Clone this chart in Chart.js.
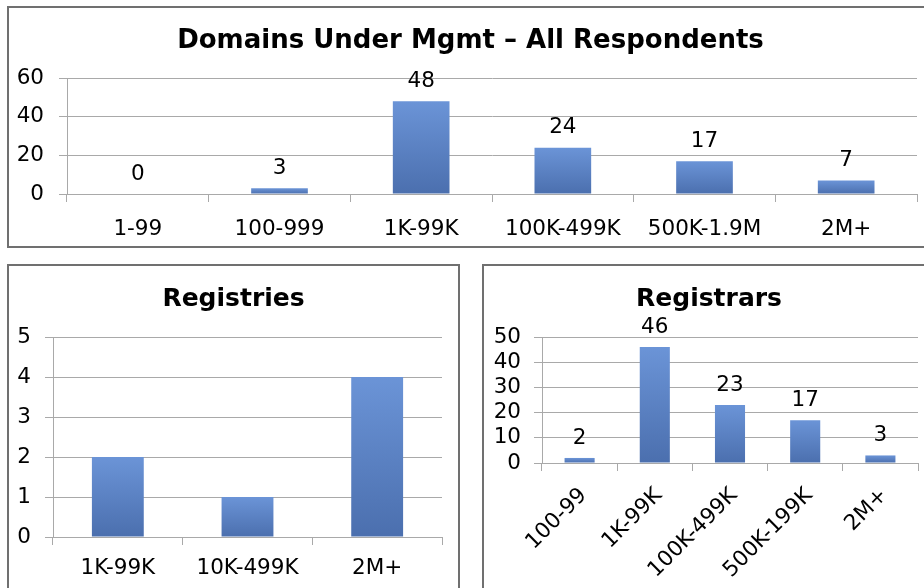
<!DOCTYPE html>
<html>
<head>
<meta charset="utf-8">
<script src="https://cdn.jsdelivr.net/npm/chart.js@4.4.0/dist/chart.umd.min.js"></script>
<style>
  html, body { margin: 0; padding: 0; background: #fff; overflow: hidden; width: 924px; height: 588px; }
  .box { position: absolute; box-sizing: border-box; border: 2px solid #707070; background: #fff; }
  canvas { position: absolute; }
</style>
</head>
<body>
<div class="box" style="left:7px;top:6px;width:940px;height:242px"></div>
<div class="box" style="left:7px;top:264px;width:453px;height:400px"></div>
<div class="box" style="left:482px;top:264px;width:500px;height:400px"></div>
<canvas id="all" width="914" height="238" style="left:10px;top:8px"></canvas>
<canvas id="registries" width="447" height="321" style="left:10px;top:267px"></canvas>
<canvas id="registrars" width="439" height="321" style="left:485px;top:267px"></canvas>
<script>
const allTitle = "Domains Under Mgmt \u2013 All Respondents";
const allLabels = ["1-99", "100-999", "1K-99K", "100K-499K", "500K-1.9M", "2M+"];
const allCounts = [0, 3, 48, 24, 17, 7];

const registryTitle = "Registries";
const registryLabels = ["1K-99K", "10K-499K", "2M+"];
const registryCounts = [2, 1, 4];

const registrarTitle = "Registrars";
const registrarLabels = ["100-99", "1K-99K", "100K-499K", "500K-199K", "2M+"];
const registrarCounts = [2, 46, 23, 17, 3];

const FONT = '"DejaVu Sans", Verdana, sans-serif';
const GRID = "#a9a9a9";
const TICK_SIZE = 21.5;

// excel-ish bar shading, light at the top, darker at the base
function barFill(c) {
  const chart = c.chart;
  if (!chart.chartArea || c.type !== "data") return "#5b80c4";
  const y = chart.scales.y;
  const top = y.getPixelForValue(c.raw);
  const base = y.getPixelForValue(0);
  if (base - top < 1) return "#5b80c4";
  const g = chart.ctx.createLinearGradient(0, top, 0, base);
  g.addColorStop(0, "#6b94d7");
  g.addColorStop(1, "#4b6fae");
  return g;
}

const valueLabels = {
  id: "valueLabels",
  afterDatasetsDraw(chart, args, opts) {
    if (!opts.display) return;
    const ctx = chart.ctx;
    const values = chart.data.datasets[0].data;
    ctx.save();
    ctx.font = TICK_SIZE + "px " + FONT;
    ctx.fillStyle = "#000";
    ctx.textAlign = "center";
    ctx.textBaseline = "middle";
    chart.getDatasetMeta(0).data.forEach((bar, i) => {
      ctx.fillText(String(values[i]), bar.x, bar.y - 20);
    });
    ctx.restore();
  }
};

// y tick labels sit in the left padding, don't let the scale clip them
const unclipY = {
  id: "unclipY",
  afterLayout(chart) { chart.scales.y.left = 0; }
};

function makeChart(id, o) {
  return new Chart(document.getElementById(id), {
    type: "bar",
    data: {
      labels: o.labels,
      datasets: [{
        data: o.values,
        backgroundColor: barFill,
        borderWidth: 0,
        barPercentage: 0.4,
        categoryPercentage: 1
      }]
    },
    options: {
      responsive: false,
      animation: false,
      devicePixelRatio: 1,
      layout: { padding: { left: o.padLeft, right: o.padRight, top: 0, bottom: 0 } },
      plugins: {
        legend: { display: false },
        tooltip: { enabled: false },
        title: {
          display: true,
          text: o.title,
          color: "#000",
          font: { family: FONT, size: o.titleSize, weight: "bold", lineHeight: 1.2 },
          padding: { top: o.titleTop, bottom: o.titleBottom }
        },
        valueLabels: { display: o.showValues }
      },
      scales: {
        x: {
          grid: { drawOnChartArea: false, drawTicks: true, tickLength: 8, color: GRID, offset: true },
          border: { color: GRID, width: 1 },
          ticks: {
            color: "#000",
            font: { family: FONT, size: TICK_SIZE, lineHeight: 1.2 },
            padding: o.xPad,
            labelOffset: o.xShift,
            autoSkip: false,
            minRotation: o.rotate,
            maxRotation: o.rotate
          },
          afterFit: (s) => { s.height = o.xHeight; }
        },
        y: {
          min: 0,
          max: o.yMax,
          grid: { color: GRID, tickLength: 8 },
          border: { color: GRID, width: 1 },
          ticks: {
            stepSize: o.yStep,
            color: "#000",
            font: { family: FONT, size: TICK_SIZE, lineHeight: 1.0 },
            padding: o.yPad,
            autoSkip: false
          },
          afterFit: (s) => { s.width = o.yWidth; }
        }
      }
    },
    plugins: [valueLabels, unclipY]
  });
}

makeChart("all", {
  labels: allLabels, values: allCounts, title: allTitle,
  titleSize: 26, titleTop: 18, titleBottom: 21,
  padLeft: 14, yMax: 60, yStep: 20, yWidth: 43, yPad: 15,
  xHeight: 52, xPad: 15, xShift: 0, padRight: 7, rotate: 0, showValues: true
});

makeChart("registries", {
  labels: registryLabels, values: registryCounts, title: registryTitle,
  titleSize: 25, titleTop: 17, titleBottom: 23,
  padLeft: 15, yMax: 5, yStep: 1, yWidth: 28, yPad: 14,
  xHeight: 51, xPad: 11, xShift: 0, padRight: 15, rotate: 0, showValues: false
});

makeChart("registrars", {
  labels: registrarLabels, values: registrarCounts, title: registrarTitle,
  titleSize: 25, titleTop: 17, titleBottom: 23,
  padLeft: 15, yMax: 50, yStep: 10, yWidth: 42, yPad: 13,
  xHeight: 125, xPad: 12, xShift: 4, padRight: 6, rotate: 45, showValues: true
});
</script>
</body>
</html>
